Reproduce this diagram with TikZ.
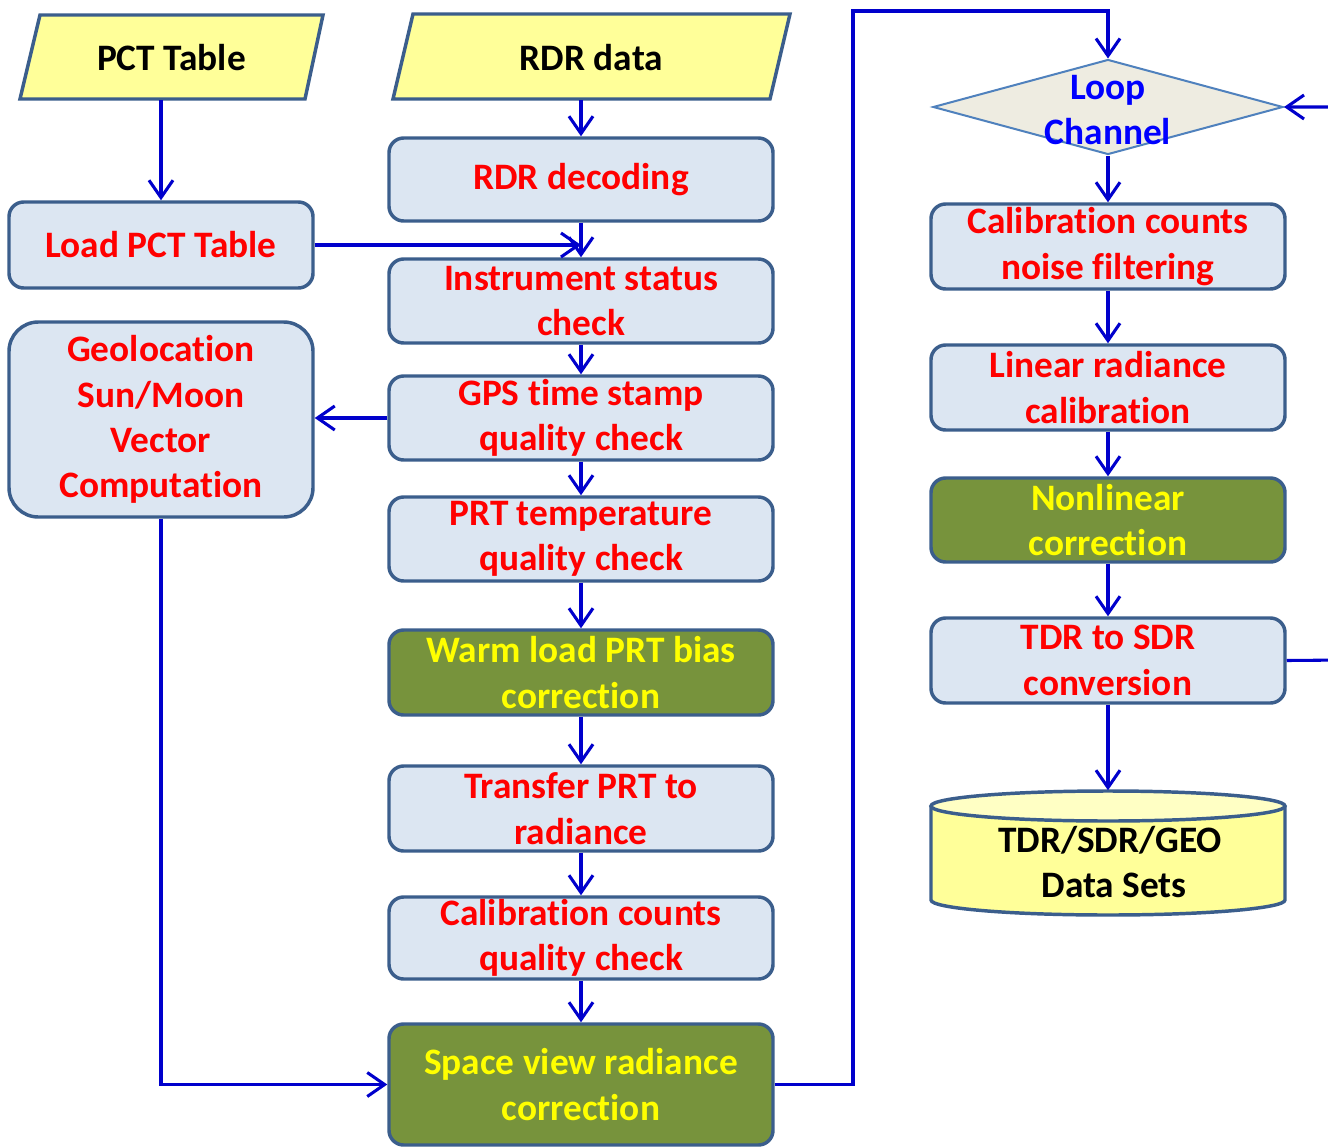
\documentclass[tikz,border=0pt]{standalone}
\usepackage{fontspec}
\setmainfont[Ligatures=NoCommon]{Carlito}
\usetikzlibrary{arrows.meta,shapes.geometric,calc}
\definecolor{arr}{HTML}{0000CC}
\definecolor{bd}{HTML}{3B5E8C}
\definecolor{boxfill}{HTML}{DCE6F2}
\definecolor{grn}{HTML}{77933C}
\definecolor{yel}{HTML}{FFFF00}
\definecolor{para}{HTML}{FFFF99}
\definecolor{dbtop}{HTML}{FFFFC4}
\definecolor{dia}{HTML}{EEECE1}
\definecolor{diabd}{HTML}{4F81BD}
\newcommand\PX{0.75pt}
\tikzset{
  txt/.style={font=\bfseries\fontsize{28}{34}\selectfont, align=center, inner sep=0pt},
  proc/.style={txt, draw=bd, line width=2.6pt, fill=boxfill, rounded corners=11pt, text=red},
  midbox/.style={proc, minimum width=384*\PX, minimum height=84*\PX},
  rbox/.style={proc, minimum width=354*\PX, minimum height=85*\PX},
  greenbox/.style={fill=grn, text=yel},
  conn/.style={draw=arr, line width=2.3pt, -{Straight Barb[length=13pt,width=18pt]}},
  io/.style={draw=bd, line width=2.6pt, fill=para, line join=miter},
}
\begin{document}
\begin{tikzpicture}[x=0.75pt,y=-0.75pt]
\useasboundingbox[fill=white] (0,0) rectangle (1328,1146);
\clip (0,0) rectangle (1328,1146);

% input parallelograms
\draw[io] (20,99) -- (40,15) -- (323,15) -- (305,99) -- cycle;
\node[txt, minimum width=303*\PX, minimum height=84*\PX] (pct) at (171.5,58) {PCT Table};
\draw[io] (393,99) -- (413,14) -- (790,14) -- (770,99) -- cycle;
\node[txt, minimum width=397*\PX, minimum height=85*\PX] (rdr) at (591.5,57.5) {RDR data};

% left column
\node[proc, minimum width=304*\PX, minimum height=86*\PX] (load) at (161,245) {Load PCT Table};
\node[proc, rounded corners=22pt, minimum width=304*\PX, minimum height=195*\PX] (geo) at (161,419.5) {Geolocation\\Sun/Moon\\Vector\\Computation};

% middle column
\node[midbox, minimum height=83*\PX] (dec) at (581,179.5) {RDR decoding};
\node[midbox] (ins) at (581,301) {Instrument status\\check};
\node[midbox] (gps) at (581,418) {GPS time stamp\\quality check};
\node[midbox] (prt) at (581,539) {PRT temperature\\quality check};
\node[midbox, greenbox, minimum height=85*\PX] (warm) at (581,672.5) {Warm load PRT bias\\correction};
\node[midbox, minimum height=85*\PX] (trans) at (581,808.5) {Transfer PRT to\\radiance};
\node[midbox, minimum height=82*\PX] (cal) at (581,938) {Calibration counts\\quality check};
\node[midbox, greenbox, minimum height=121*\PX] (sv) at (581,1084.5) {Space view radiance\\correction};

% right column
\node[diamond, draw=diabd, line width=1.5pt, fill=dia, minimum width=350*\PX, minimum height=95*\PX, inner sep=0pt, aspect=3.7] (loop) at (1108,107) {};
\node[txt, text=blue] (looptxt) at (1108,110) {Loop\\Channel};
\node[rbox] (noise) at (1108,246.5) {Calibration counts\\noise filtering};
\node[rbox] (lin) at (1108,387.5) {Linear radiance\\calibration};
\node[rbox, greenbox, minimum height=84*\PX] (non) at (1108,520) {Nonlinear\\correction};
\node[rbox] (tdr) at (1108,660.5) {TDR to SDR\\conversion};

% data store cylinder
\fill[para] (931,806) -- (931,900) arc[start angle=180, end angle=0, x radius=177, y radius=15] -- (1285,806) -- cycle;
\draw[bd, line width=2.6pt] (931,806) -- (931,900) arc[start angle=180, end angle=0, x radius=177, y radius=15] -- (1285,806);
\draw[bd, line width=2.6pt, fill=dbtop] (1108,806) ellipse [x radius=177, y radius=15];
\node[minimum width=354*\PX, minimum height=125*\PX, inner sep=0pt] (db) at (1108,853) {};
\node[txt] (dbtxt) at (1110,862) {TDR/SDR/GEO\\\ Data Sets};

% helper coordinates
\coordinate (up) at (853,11);
\coordinate (rr) at (1345,660);

% connectors
\draw[conn] (load.north |- pct.south) -- (load.north);
\draw[conn] (dec.north |- rdr.south) -- (dec.north);
\draw[conn] (dec.south) -- (ins.north);
\draw[conn] (load.east) -- (load.east -| dec.south);
\draw[conn] (ins.south) -- (gps.north);
\draw[conn] (gps.west) -- (gps.west -| geo.east);
\draw[conn] (gps.south) -- (prt.north);
\draw[conn] (prt.south) -- (warm.north);
\draw[conn] (warm.south) -- (trans.north);
\draw[conn] (trans.south) -- (cal.north);
\draw[conn] (cal.south) -- (sv.north);
\draw[conn] (geo.south) |- (sv.west);
\draw[conn] (sv.east) -| (up) -| (loop.north);
\draw[conn] (loop.south) -- (noise.north);
\draw[conn] (noise.south) -- (lin.north);
\draw[conn] (lin.south) -- (non.north);
\draw[conn] (non.south) -- (tdr.north);
\draw[conn] (tdr.south) -- (db.north);
\draw[conn] (tdr.east) -- (rr) |- (loop.east);
\end{tikzpicture}
\end{document}
